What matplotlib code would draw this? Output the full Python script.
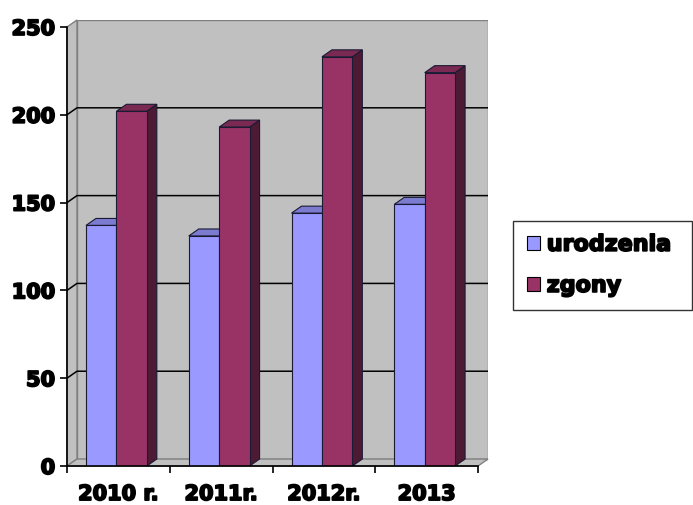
import matplotlib
matplotlib.use("Agg")
import matplotlib.pyplot as plt
import matplotlib.patheffects as pe
from matplotlib.patches import Polygon, Patch

categories = ["2010 r.", "2011r.", "2012r.", "2013"]
series_names = ["urodzenia", "zgony"]
urodzenia = [137, 131, 144, 149]
zgony = [202, 193, 233, 224]
yticks = [0, 50, 100, 150, 200, 250]

W, H = 693, 505
fig = plt.figure(figsize=(W / 100, H / 100), dpi=100)
fig.patch.set_facecolor("white")

x_left, x_right = 67, 488
y_bottom, y_top = 466, 20
ax = fig.add_axes([x_left / W, 1 - y_bottom / H, (x_right - x_left) / W, (y_bottom - y_top) / H])

n = len(categories)
ymax = 250
px_per_cat = 103.0
dx = 10 / px_per_cat
px_per_unit = 1.764
dy = 7 / px_per_unit

ax.set_xlim(0, n + dx)
ax.set_ylim(0, ymax + dy)
ax.set_facecolor("none")

wall = "#c0c0c0"
wall_edge = "#808080"

# back wall
ax.add_patch(Polygon([(dx, dy), (n + dx, dy), (n + dx, ymax + dy), (dx, ymax + dy)],
                     closed=True, facecolor=wall, edgecolor=wall_edge, lw=1, zorder=0))
# side wall
ax.add_patch(Polygon([(0, 0), (dx, dy), (dx, ymax + dy), (0, ymax)],
                     closed=True, facecolor=wall, edgecolor=wall_edge, lw=1, zorder=0, clip_on=False))
# floor
ax.add_patch(Polygon([(0, 0), (n, 0), (n + dx, dy), (dx, dy)],
                     closed=True, facecolor=wall, edgecolor=wall_edge, lw=1, zorder=0, clip_on=False))

# gridlines
for v in yticks[1:-1]:
    ax.plot([0, dx, n + dx], [v, v + dy, v + dy], color="black", lw=1.1, zorder=1, solid_capstyle="butt")

# bars
bw = 0.296
off = 0.185
colors = [
    ("#9999ff", "#7b7bd0", "#5c5c9e"),
    ("#993366", "#7a2952", "#4d1a33"),
]
edge = "#1a1a33"
for i in range(n):
    for s, vals in enumerate([urodzenia, zgony]):
        x0 = i + off + s * bw
        h = vals[i]
        front, top, side = colors[s]
        z = 2 + s
        ax.add_patch(Polygon([(x0 + bw, 0), (x0 + bw + dx, dy), (x0 + bw + dx, h + dy), (x0 + bw, h)],
                             closed=True, facecolor=side, edgecolor=edge, lw=0.8, zorder=z))
        ax.add_patch(Polygon([(x0, h), (x0 + bw, h), (x0 + bw + dx, h + dy), (x0 + dx, h + dy)],
                             closed=True, facecolor=top, edgecolor=edge, lw=0.8, zorder=z))
        ax.bar(x0, h, width=bw, align="edge", color=front, edgecolor=edge, lw=0.8, zorder=z + 0.1)

# axes / spines
for sp in ["top", "right"]:
    ax.spines[sp].set_visible(False)
ax.spines["left"].set_bounds(0, ymax)
ax.spines["bottom"].set_bounds(0, n)
for sp in ["left", "bottom"]:
    ax.spines[sp].set_color("black")
    ax.spines[sp].set_linewidth(1.2)
    ax.spines[sp].set_zorder(5)

heavy = [pe.withStroke(linewidth=1.3, foreground="black")]
font = dict(family="DejaVu Sans", weight="bold", size=15)
ax.set_yticks(yticks)
ax.set_yticklabels([str(v) for v in yticks], fontdict=font)
ax.tick_params(axis="y", length=5, width=1.2, pad=3.5, color="black")

ax.set_xticks(range(n + 1))
ax.set_xticklabels([""] * (n + 1))
ax.set_xticks([i + 0.5 for i in range(n)], minor=True)
ax.set_xticklabels(categories, minor=True, fontdict=font)
ax.tick_params(axis="x", which="major", length=5, width=1.2, color="black")
ax.tick_params(axis="x", which="minor", length=0, pad=13)
for t in ax.get_yticklabels() + ax.get_xticklabels(minor=True):
    t.set_path_effects(heavy)

handles = [Patch(facecolor=colors[0][0], edgecolor="black", lw=0.8),
           Patch(facecolor=colors[1][0], edgecolor="black", lw=0.8)]
leg = fig.legend(handles, series_names, loc="upper left",
                 bbox_to_anchor=(513 / W, 1 - 221 / H, 179 / W, 0.0),
                 mode="expand",
                 prop=dict(family="DejaVu Sans", weight="bold", size=16),
                 frameon=True, fancybox=False, edgecolor="black",
                 handlelength=0.6, handleheight=0.6, handletextpad=0.3,
                 labelspacing=0.95, borderpad=0.62, borderaxespad=0)
leg.get_frame().set_linewidth(1.0)
for t in leg.get_texts():
    t.set_path_effects(heavy)

fig.savefig("out.png", dpi=100)
